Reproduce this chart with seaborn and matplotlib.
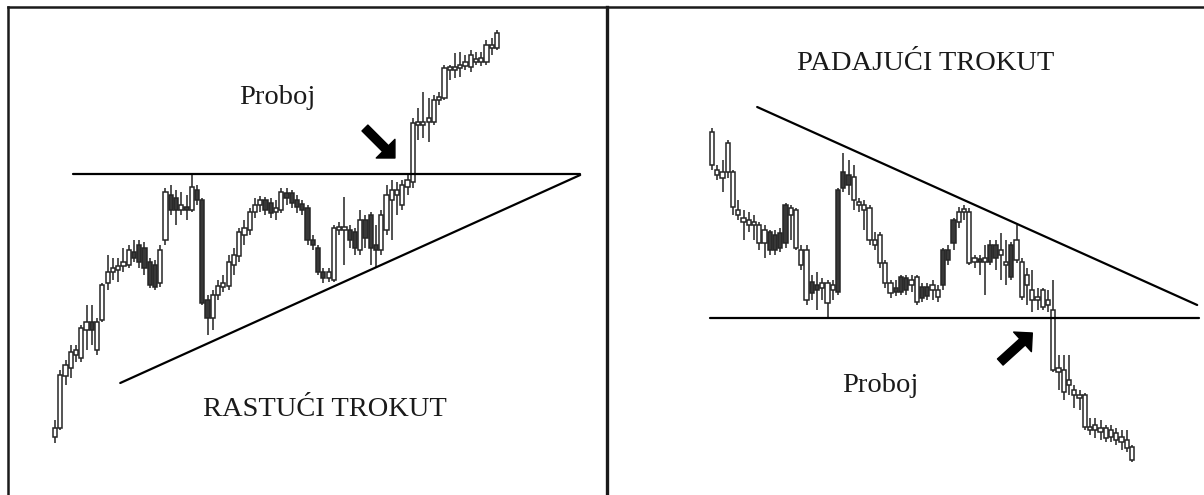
import matplotlib
matplotlib.use("Agg")
import matplotlib.pyplot as plt
import seaborn as sns
import pandas as pd
import numpy as np

# --- candle data (price units) ---
# left panel: ascending triangle
left_open = [63, 72, 124, 132, 145, 142, 170, 178, 150, 180, 217, 228, 230, 234, 235, 248, 255, 252, 238, 235,
             217, 260, 305, 302, 290, 292, 290, 310, 300, 200, 182, 205, 213, 214, 235, 244, 265, 270, 288, 295,
             300, 297, 288, 290, 307, 307, 300, 296, 292, 260, 252, 228, 222, 220, 270, 270, 270, 268, 250, 280,
             285, 255, 250, 270, 300, 305, 295, 313, 318, 375, 375, 378, 378, 400, 402, 430, 430, 432, 434, 433,
             438, 438, 438, 452, 452]
left_close = [72, 125, 135, 148, 150, 172, 178, 170, 178, 215, 228, 232, 234, 238, 250, 242, 238, 232, 215, 213,
              250, 308, 290, 290, 295, 290, 313, 300, 197, 182, 205, 214, 217, 238, 245, 268, 272, 288, 295, 300,
              290, 287, 292, 308, 302, 297, 293, 290, 260, 255, 228, 222, 228, 272, 272, 272, 260, 252, 280, 262,
              252, 250, 285, 305, 310, 310, 315, 320, 377, 378, 378, 382, 400, 402, 432, 432, 433, 435, 438, 445,
              440, 442, 455, 455, 467]
left_high = [80, 130, 140, 155, 155, 175, 195, 195, 182, 217, 245, 242, 242, 252, 255, 260, 260, 258, 242, 240,
             255, 312, 315, 310, 308, 305, 326, 315, 302, 205, 210, 220, 225, 245, 252, 272, 280, 292, 302, 304,
             303, 302, 300, 312, 312, 310, 305, 300, 295, 265, 255, 232, 232, 275, 278, 303, 275, 272, 290, 285,
             288, 275, 290, 315, 320, 318, 320, 325, 382, 392, 408, 402, 405, 408, 435, 435, 447, 448, 445, 450,
             448, 448, 460, 462, 470]
left_low = [57, 70, 115, 122, 138, 138, 150, 155, 145, 178, 210, 220, 218, 228, 232, 238, 232, 225, 212, 210,
            213, 255, 285, 275, 285, 280, 288, 295, 195, 165, 170, 200, 208, 210, 225, 238, 255, 265, 282, 288,
            285, 282, 280, 287, 295, 292, 287, 285, 255, 250, 225, 217, 218, 218, 265, 235, 252, 245, 245, 252,
            235, 232, 245, 265, 260, 285, 290, 305, 312, 360, 362, 358, 375, 395, 400, 420, 422, 423, 430, 428,
            435, 434, 435, 445, 450]

# right panel: descending triangle
right_open = [335, 325, 322, 328, 293, 285, 278, 275, 275, 257, 257, 268, 265, 267, 295, 285, 252, 235, 200, 218,
              215, 212, 197, 210, 310, 328, 325, 300, 295, 290, 260, 255, 237, 217, 207, 212, 223, 222, 215, 198,
              213, 213, 210, 203, 250, 250, 280, 278, 288, 237, 238, 240, 238, 255, 255, 245, 235, 255, 240, 203,
              215, 200, 200, 193, 195, 130, 128, 108, 115, 105, 102, 73, 70, 70, 68, 62, 63, 60, 58, 52, 40]
right_close = [368, 330, 328, 357, 328, 290, 282, 280, 278, 275, 270, 250, 250, 252, 257, 292, 290, 250, 250, 207,
               210, 217, 217, 215, 208, 312, 315, 323, 298, 295, 292, 260, 265, 237, 217, 208, 208, 210, 220, 223,
               202, 204, 215, 210, 215, 240, 257, 288, 290, 288, 242, 238, 242, 238, 242, 250, 238, 223, 260, 238,
               225, 210, 203, 210, 200, 190, 132, 130, 120, 110, 105, 105, 72, 75, 72, 72, 70, 67, 63, 60, 53]
right_high = [372, 335, 340, 360, 330, 300, 290, 288, 285, 278, 275, 270, 270, 272, 297, 295, 292, 255, 255, 225,
              228, 222, 220, 220, 312, 347, 340, 335, 302, 300, 295, 268, 268, 240, 220, 220, 225, 225, 225, 225,
              217, 217, 220, 215, 252, 255, 282, 293, 295, 292, 245, 245, 255, 260, 260, 267, 260, 258, 275, 242,
              232, 230, 212, 212, 210, 220, 145, 145, 145, 115, 110, 107, 82, 82, 80, 75, 75, 72, 70, 70, 55]
right_low = [330, 320, 308, 322, 285, 280, 260, 268, 260, 250, 242, 245, 245, 248, 252, 260, 250, 230, 195, 200,
             190, 200, 182, 200, 205, 308, 305, 290, 288, 270, 255, 250, 232, 212, 202, 204, 205, 205, 208, 195,
             198, 200, 200, 198, 210, 235, 250, 272, 280, 235, 232, 225, 205, 235, 230, 220, 215, 220, 237, 200,
             195, 188, 190, 190, 188, 128, 110, 100, 105, 92, 90, 70, 65, 62, 60, 58, 58, 55, 50, 48, 38]

# trend lines: (candle index, price) end points
left_resistance = pd.DataFrame({"x": [3.4, 99.8], "y": [326, 326]})
left_support = pd.DataFrame({"x": [12.4, 99.8], "y": [117, 325]})
right_support = pd.DataFrame({"x": [-0.4, 92.8], "y": [182, 182]})
right_resistance = pd.DataFrame({"x": [8.6, 92.4], "y": [393, 195]})

sns.set_theme(style="white")
plt.rcParams["font.family"] = ["Liberation Serif", "DejaVu Serif"]

W, H = 1204, 495
fig = plt.figure(figsize=(W / 100, H / 100), dpi=100)
ax_l = fig.add_axes([8 / W, 0, (607 - 8) / W, (H - 7) / H])
ax_r = fig.add_axes([607 / W, 0, (W - 607) / W, (H - 7) / H])
ax_r.patch.set_alpha(0)


def draw_candles(ax, o, h, l, c):
    df = pd.DataFrame({"open": o, "high": h, "low": l, "close": c})
    df["i"] = np.arange(len(df))
    up = df["close"] >= df["open"]
    ax.vlines(df["i"], df["low"], df["high"], color="#333333", lw=1.2, zorder=2)
    bottom = df[["open", "close"]].min(axis=1)
    height = (df["close"] - df["open"]).abs().clip(lower=3)
    ax.bar(df["i"][up], height[up], bottom=bottom[up], width=0.8,
           color="white", edgecolor="#262626", linewidth=1.1, zorder=3)
    ax.bar(df["i"][~up], height[~up], bottom=bottom[~up], width=0.8,
           color="#383838", edgecolor="#262626", linewidth=1.1, zorder=3)


draw_candles(ax_l, left_open, left_high, left_low, left_close)
draw_candles(ax_r, right_open, right_high, right_low, right_close)

for ax, lines in [(ax_l, [left_resistance, left_support]), (ax_r, [right_support, right_resistance])]:
    for ln in lines:
        sns.lineplot(data=ln, x="x", y="y", ax=ax, color="black", lw=1.6, zorder=4)

ax_l.set_xlim(-8.93, 104.9)
ax_r.set_xlim(-20.0, 93.7)
for ax in (ax_l, ax_r):
    ax.set_ylim(5, 493)
    ax.set_xticks([])
    ax.set_yticks([])
    ax.set_xlabel("")
    ax.set_ylabel("")
    for s in ax.spines.values():
        s.set_color("#1a1a1a")
        s.set_linewidth(1.8)
    ax.spines["bottom"].set_visible(False)
ax_l.spines["right"].set_linewidth(2.4)
ax_r.spines["right"].set_visible(False)
ax_r.spines["left"].set_visible(False)

txt = dict(fontsize=20.5, color="#1a1a1a", ha="center", va="center")
ax_l.text(42.2, 402, "Proboj", **txt)
ax_l.text(51.3, 90, "RASTUĆI TROKUT", **txt)
ax_r.text(40.6, 437, "PADAJUĆI TROKUT", **txt)
ax_r.text(32.0, 115, "Proboj", **txt)

arrow = dict(arrowstyle="simple,head_length=0.95,head_width=1.9,tail_width=0.6",
             color="black", mutation_scale=10, shrinkA=0, shrinkB=0)
ax_l.annotate("", xy=(64.6, 342), xytext=(58.9, 372), arrowprops=arrow)
ax_r.annotate("", xy=(61.0, 167), xytext=(54.9, 138), arrowprops=arrow)

fig.savefig("out.png", dpi=100, facecolor="white")
